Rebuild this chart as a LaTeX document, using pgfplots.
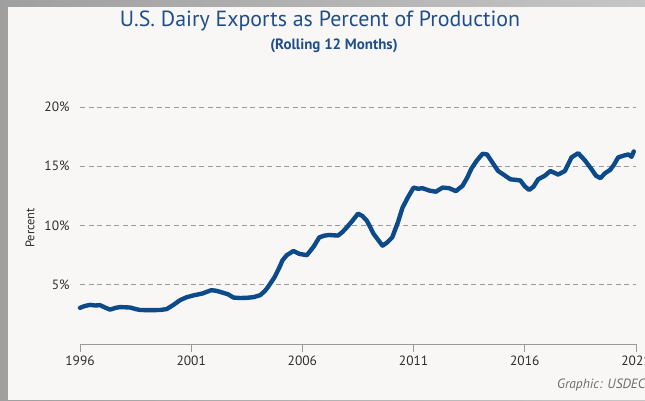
\documentclass[border=0pt]{standalone}
\usepackage{pgfplots}
\pgfplotsset{compat=1.18}
\usepackage{fontspec}
\setmainfont{PT Sans}
\definecolor{titleblue}{HTML}{1F4E8C}
\definecolor{lineblue}{HTML}{0C4A8A}
\definecolor{panel}{HTML}{F8F7F6}
\definecolor{ticktxt}{HTML}{2E2E2E}
\definecolor{gridc}{HTML}{9A9A9A}
\begin{document}
\begin{tikzpicture}[x=1bp,y=1bp]
\useasboundingbox (0,0) rectangle (645,400);
\shade[left color=gray!75, right color=gray!45] (0,0) rectangle (645,400);
\fill[panel] (8,0) rectangle (645,393);
\node[titleblue, font=\fontsize{22}{24}\selectfont] at (320,379) {U.S. Dairy Exports as Percent of Production};
\node[titleblue, font=\fontsize{15}{17}\selectfont\bfseries] at (334,354) {(Rolling 12 Months)};
\node[anchor=west, text=gray!85!black, font=\fontsize{13.5}{15}\selectfont\itshape, inner sep=0pt] at (557,15) {Graphic: USDEC};
\begin{axis}[
  at={(80bp,56bp)}, anchor=south west,
  scale only axis, width=556bp, height=237bp,
  xmin=1996, xmax=2021, ymin=0, ymax=20,
  clip=false,
  axis lines*=left,
  y axis line style={draw=none},
  x axis line style={gridc, line width=0.8pt},
  xtick={1996,2001,2006,2011,2016,2021},
  xticklabels={1996,2001,2006,2011,2016,2021},
  ytick={5,10,15,20},
  yticklabels={5\%,10\%,15\%,20\%},
  tick align=outside,
  major tick length=8bp,
  xtick style={gridc, line width=0.8pt},
  ytick style={draw=none},
  ticklabel style={text=ticktxt, font=\fontsize{13.5}{15}\selectfont},
  yticklabel style={xshift=1bp},
  ymajorgrids,
  major grid style={gridc, line width=0.8pt, dash pattern=on 5bp off 3.5bp},
  ylabel={Percent},
  ylabel style={at={(axis description cs:-0.09,0.49)}, anchor=center, text=ticktxt, font=\fontsize{12.5}{14}\selectfont},
]
\addplot[lineblue, line width=4.4pt, line join=round, line cap=round] coordinates {
(1996.0,3.05) (1996.2,3.2) (1996.45,3.3) (1996.7,3.25) (1996.9,3.28)
(1997.1,3.1) (1997.35,2.9) (1997.6,3.05) (1997.8,3.12) (1998.0,3.1)
(1998.25,3.08) (1998.5,2.95) (1998.7,2.87) (1999.0,2.86) (1999.3,2.86)
(1999.6,2.87) (1999.9,2.95) (2000.2,3.3) (2000.5,3.7) (2000.8,3.95)
(2001.1,4.1) (2001.5,4.26) (2001.7,4.4) (2001.9,4.54) (2002.1,4.5)
(2002.3,4.4) (2002.65,4.2) (2002.9,3.92) (2003.2,3.88) (2003.5,3.9)
(2003.8,3.95) (2004.1,4.12) (2004.3,4.45) (2004.45,4.8) (2004.75,5.65)
(2005.0,6.6) (2005.1,7.05) (2005.3,7.5) (2005.6,7.85) (2005.87,7.6)
(2006.2,7.5) (2006.5,8.2) (2006.76,9.0) (2007.0,9.15) (2007.2,9.2)
(2007.6,9.15) (2007.8,9.45) (2008.0,9.85) (2008.25,10.4) (2008.5,11.0)
(2008.7,10.8) (2008.9,10.4) (2009.2,9.3) (2009.6,8.3) (2009.8,8.55)
(2010.04,9.0) (2010.3,10.3) (2010.5,11.5) (2010.75,12.4) (2011.0,13.2)
(2011.2,13.1) (2011.4,13.15) (2011.7,12.95) (2012.0,12.85) (2012.3,13.2)
(2012.6,13.15) (2012.9,12.9) (2013.2,13.35) (2013.4,14.0) (2013.6,14.8)
(2013.85,15.5) (2014.1,16.05) (2014.3,16.0) (2014.55,15.3) (2014.8,14.6)
(2015.0,14.35) (2015.35,13.9) (2015.6,13.85) (2015.8,13.8) (2016.0,13.3)
(2016.2,13.0) (2016.4,13.3) (2016.6,13.9) (2016.9,14.2) (2017.15,14.6)
(2017.5,14.3) (2017.8,14.6) (2018.1,15.75) (2018.4,16.1) (2018.7,15.5)
(2019.0,14.75) (2019.2,14.2) (2019.4,14.0) (2019.6,14.4) (2019.84,14.7)
(2020.0,15.1) (2020.2,15.75) (2020.45,15.9) (2020.66,16.0) (2020.8,15.8)
(2020.9,16.25)
};
\end{axis}
\end{tikzpicture}
\end{document}
